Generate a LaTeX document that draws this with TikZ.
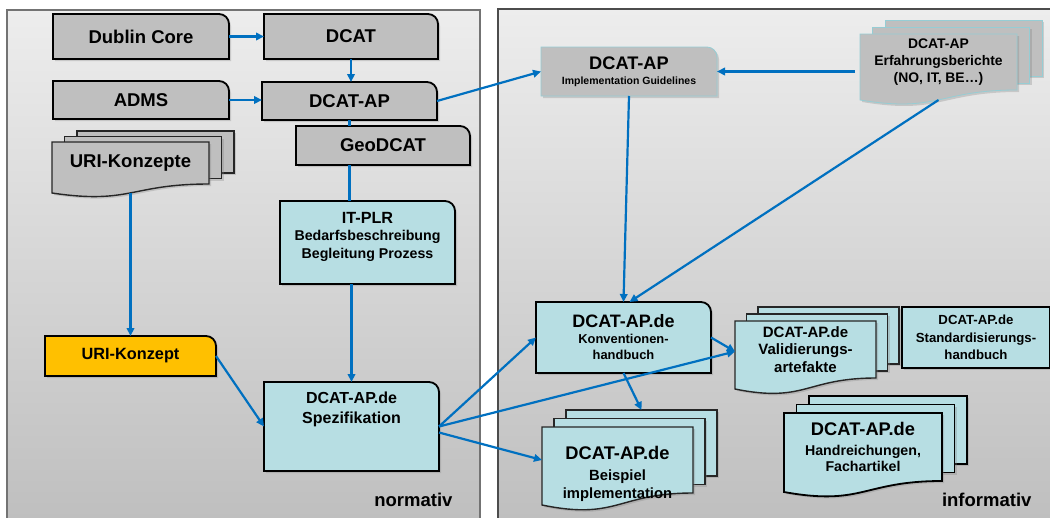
\documentclass[tikz,border=0pt]{standalone}
\usepackage{fontspec}
\setmainfont{Liberation Sans}
\usetikzlibrary{arrows.meta,backgrounds,shadows,positioning}

\begin{document}
\begin{tikzpicture}[
		x=1pt,
		y=-1pt,
		feld/.style={inner sep=0pt, outer sep=1pt, align=center, font=\bfseries},
		schrift/.style 2 args={font=\bfseries\fontsize{#1}{#2}\selectfont},
		rahmen/.style={draw=black, line width=1.8pt},
		duennrahmen/.style={draw=black!85, line width=1.4pt},
		hellrahmen/.style={draw=MauRand, line width=0.8pt},
		schatten/.style={drop shadow={shadow xshift=2pt, shadow yshift=-2pt, opacity=0.3}},
		pfeil/.style={draw=Blau, line width=2.2pt, -{Triangle[length=8pt,width=7.5pt]}},
		linie/.style={draw=Blau, line width=2.2pt}
	]
	% ===== FARBEN =====
	\definecolor{Grau}{RGB}{191,191,191}
	\definecolor{Tuerkis}{RGB}{183,222,227}
	\definecolor{Gelb}{RGB}{255,192,0}
	\definecolor{Blau}{RGB}{0,112,192}
	\definecolor{MauRand}{RGB}{150,205,212}
	\definecolor{PanelOben}{RGB}{237,237,237}
	\definecolor{PanelUnten}{RGB}{190,190,190}

	% ===== FORMEN =====
	% Kasten mit runder Ecke oben rechts
	\def\EckBox#1#2#3{%
		\draw[#3, fill=#2, schatten] (#1.south west) -- (#1.north west) -- ([xshift=-10pt]#1.north east)
			.. controls ([xshift=-4.5pt]#1.north east) and ([yshift=-4.5pt]#1.north east) .. ([yshift=-10pt]#1.north east)
			-- (#1.south east) -- cycle;}
	% Dokumentstapel: Knoten, Farbe, Rahmen, dx, dy (nach oben), Welle
	\def\Stapel#1#2#3#4#5#6{%
		\foreach \k in {2,1}
			\draw[#3, fill=#2, schatten] ([shift={(\k*#4,-\k*#5)}]#1.south west) rectangle ([shift={(\k*#4,-\k*#5)}]#1.north east);
		\draw[#3, fill=#2, schatten] (#1.north west) -- (#1.north east) -- (#1.south east)
			.. controls (#1.south) and ([yshift=-2.3*#6]#1.south) .. ([yshift=-#6]#1.south west) -- cycle;}

	\useasboundingbox (0,0) rectangle (1050,517);

	% ===== NORMATIV =====
	\node[feld, schrift={18.5}{21}, minimum width=174pt, minimum height=43pt] (dc) at (141,36.5) {Dublin Core};
	\node[feld, schrift={18.5}{21}, minimum width=172pt, minimum height=43pt] (dcat) at (351,36.5) {DCAT};
	\node[feld, schrift={18.5}{21}, minimum width=174pt, minimum height=36pt] (adms) at (141,100) {ADMS};
	\node[feld, schrift={18.5}{21}, minimum width=173pt, minimum height=36pt] (dcap) at (349.5,101) {DCAT-AP};
	\node[feld, schrift={18.5}{21}, minimum width=172pt, minimum height=37pt] (geo) at (383,145.5) {GeoDCAT};
	\node[feld, schrift={18.5}{21}, minimum width=155pt, minimum height=40pt] (urik) at (130.5,163) {URI-Konzepte};
	\node[feld, minimum width=173pt, minimum height=81pt] (itplr) at (367.5,242.5) {};
	\node[feld, schrift={14.2}{17.5}, below=10pt of itplr.north] (itplrT)
		{{\fontsize{16.2}{19}\selectfont IT-PLR}\\Bedarfsbeschreibung\\Begleitung Prozess};
	\node[feld, schrift={16.3}{19}, minimum width=169pt, minimum height=38pt] (urikon) at (130.5,356) {URI-Konzept};
	\node[feld, minimum width=173pt, minimum height=87pt] (spez) at (351.5,426.5) {};
	\node[feld, schrift={16}{20}, below=9pt of spez.north] (spezT) {DCAT-AP.de\\Spezifikation};
	\node[schrift={18.5}{22}, anchor=base east] (norm) at (456,506) {normativ};

	% ===== INFORMATIV =====
	\node[feld, schrift={10.5}{12.6}, minimum width=174pt, minimum height=47pt] (impl) at (629,71.5)
		{{\fontsize{18.2}{21}\selectfont DCAT-AP}\\[2.5pt]Implementation Guidelines};
	\node[feld, schrift={13.9}{17}, minimum width=155pt, minimum height=54pt] (erf) at (938.5,62)
		{DCAT-AP\\Erfahrungsberichte\\(NO, IT, BE…)};
	\node[feld, schrift={12.9}{16}, minimum width=173pt, minimum height=69pt] (konv) at (623.5,337.5)
		{{\fontsize{18}{21}\selectfont DCAT-AP.de}\\Konventionen-\\handbuch};
	\node[feld, schrift={15}{17.5}, minimum width=139pt, minimum height=55pt] (valid) at (805.5,349.5)
		{DCAT-AP.de\\Validierungs-\\artefakte};
	\node[feld, schrift={13.2}{17.5}, minimum width=146pt, minimum height=59pt] (stand) at (976,337.5)
		{DCAT-AP.de\\Standardisierungs-\\handbuch};
	\node[feld, minimum width=149pt, minimum height=64pt] (beisp) at (617.5,460) {};
	\node[feld, schrift={14.8}{18}, below=18pt of beisp.north] (beispT)
		{{\fontsize{18.3}{21}\selectfont DCAT-AP.de}\\[3pt]Beispiel\\implementation};
	\node[feld, schrift={14.2}{16}, minimum width=156pt, minimum height=66pt] (hand) at (863,447)
		{{\fontsize{18.3}{21}\selectfont DCAT-AP.de}\\[4pt]Handreichungen,\\Fachartikel};
	\node[schrift={18.5}{22}, anchor=base east] (inform) at (1035,506) {informativ};

	% ===== HINTERGRUND =====
	\begin{scope}[on background layer]
		\fill[top color=PanelOben, bottom color=PanelUnten] (7,10) rectangle (480,530);
		\draw[draw=black!55, line width=1.5pt] (7,530) -- (7,10) -- (480,10) -- (480,530);
		\fill[top color=PanelOben, bottom color=PanelUnten] (498,9) rectangle (1060,530);
		\draw[draw=black!70, line width=1.5pt] (498,530) -- (498,9) -- (1060,9);

		\EckBox{dc}{Grau}{rahmen}
		\EckBox{dcat}{Grau}{rahmen}
		\EckBox{adms}{Grau}{rahmen}
		\EckBox{dcap}{Grau}{rahmen}
		\EckBox{geo}{Grau}{rahmen}
		\Stapel{urik}{Grau}{duennrahmen}{12.5}{5.5}{9}
		\EckBox{itplr}{Tuerkis}{rahmen}
		\EckBox{urikon}{Gelb}{rahmen}
		\EckBox{spez}{Tuerkis}{rahmen}

		\EckBox{impl}{Grau}{hellrahmen}
		\Stapel{erf}{Grau}{hellrahmen}{12.5}{7}{10}
		\EckBox{konv}{Tuerkis}{rahmen}
		\Stapel{valid}{Tuerkis}{duennrahmen}{11.5}{7}{11}
		\draw[rahmen, fill=Tuerkis, schatten] (stand.south west) rectangle (stand.north east);
		\Stapel{beisp}{Tuerkis}{duennrahmen}{12}{8.5}{12}
		\Stapel{hand}{Tuerkis}{rahmen}{12.5}{8.5}{11}
	\end{scope}

	% ===== PFEILE =====
	\draw[pfeil] (dc) -- (dcat);
	\draw[pfeil] (dcat.south) -- (dcat.south |- dcap.north);
	\draw[pfeil] (adms) -- (adms -| dcap.west);
	\draw[linie] (dcap.south) -- (dcap.south |- geo.north);
	\draw[linie] (dcap.south |- geo.south) -- (dcap.south |- itplr.north);
	\draw[pfeil] (spez.north |- itplr.south) -- (spez.north);
	\draw[pfeil] ([yshift=-9pt]urik.south) -- (urik.south |- urikon.north);
	\draw[pfeil] (urikon.east) -- (spez.west);
	\draw[pfeil] (dcap.east) -- (impl.west);
	\draw[pfeil] ([xshift=-5pt]erf.west |- impl.east) -- (impl.east);
	\draw[pfeil] (impl.south) -- (konv.north);
	\draw[pfeil] ([yshift=-10pt]erf.south) -- ([xshift=6pt]konv.north);
	\draw[pfeil] (spez.east) -- (konv.west);
	\draw[pfeil] (spez.east) -- ([yshift=-2pt]valid.west);
	\draw[pfeil] (konv.east) -- ([yshift=-2pt]valid.west);
	\draw[pfeil] ([yshift=-6pt]spez.east) -- (beisp.west);
	\draw[pfeil] (konv.south) -- ([shift={(24,-17)}]beisp.north);

\end{tikzpicture}
\end{document}
